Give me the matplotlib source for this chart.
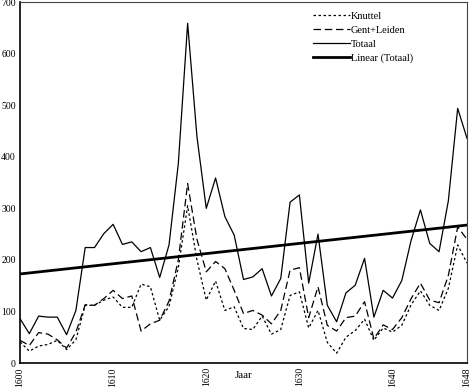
import matplotlib
matplotlib.use("Agg")
import matplotlib.pyplot as plt
import numpy as np

plt.rcParams['font.family'] = ['Liberation Serif', 'DejaVu Serif']

# Jaarlijkse aantallen
jaren = list(range(1600, 1649))
knuttel = [41, 23, 33, 36, 44, 26, 45, 112, 112, 122,
           128, 108, 108, 153, 148, 83, 110, 185, 305, 200,
           122, 159, 102, 109, 67, 65, 91, 56, 65, 131,
           138, 68, 102, 40, 19, 50, 63, 85, 44, 68,
           60, 73, 113, 140, 112, 102, 145, 229, 194]
gent_leiden = [44, 34, 59, 56, 45, 29, 60, 113, 112, 125,
               141, 125, 130, 62, 76, 83, 120, 200, 348, 240,
               177, 197, 183, 141, 96, 102, 93, 76, 102, 180,
               185, 88, 148, 73, 62, 88, 91, 119, 47, 74,
               65, 88, 125, 155, 122, 117, 170, 264, 240]
totaal = [86, 57, 91, 89, 89, 55, 102, 224, 224, 251,
          269, 230, 235, 216, 224, 166, 229, 387, 659, 439,
          300, 359, 284, 248, 162, 167, 183, 130, 164, 312,
          326, 155, 250, 112, 80, 136, 151, 203, 89, 141,
          126, 160, 238, 297, 232, 216, 315, 494, 436]
x_ticks = [1600, 1610, 1620, 1630, 1640, 1648]

# lineaire trend van het totaal (zoals Excel)
coef = np.polyfit(jaren, totaal, 1)
trend = np.polyval(coef, jaren)

fig = plt.figure(figsize=(4.7, 3.88), dpi=100)
ax = fig.add_axes([0.0426, 0.0644, 0.951, 0.930])

ax.plot(jaren, knuttel, color='black', lw=0.9, dashes=(2, 2), label='Knuttel')
ax.plot(jaren, gent_leiden, color='black', lw=0.9, dashes=(6, 3), label='Gent+Leiden')
ax.plot(jaren, totaal, color='black', lw=0.9, label='Totaal')
ax.plot(jaren, trend, color='black', lw=2.0, label='Linear (Totaal)')

ax.set_xlim(1600, 1648)
ax.set_ylim(0, 700)
ax.set_yticks(range(0, 701, 100))
ax.set_xticks(x_ticks)
ax.set_xticklabels([str(j) for j in x_ticks], rotation=90)
ax.tick_params(length=0, labelsize=7, pad=3)
ax.set_xlabel('Jaar', fontsize=8)
ax.xaxis.set_label_coords(0.5, -0.022)

for side in ['top', 'right']:
    ax.spines[side].set_linewidth(0.8)
    ax.spines[side].set_color('#444444')
for side in ['left', 'bottom']:
    ax.spines[side].set_linewidth(1.2)

leg = ax.legend(loc='upper right', bbox_to_anchor=(0.895, 0.995), frameon=False,
                fontsize=7.5, handlelength=3.5, handletextpad=0.1,
                labelspacing=0.45, borderaxespad=0.3)

fig.savefig('out.png', dpi=100)
